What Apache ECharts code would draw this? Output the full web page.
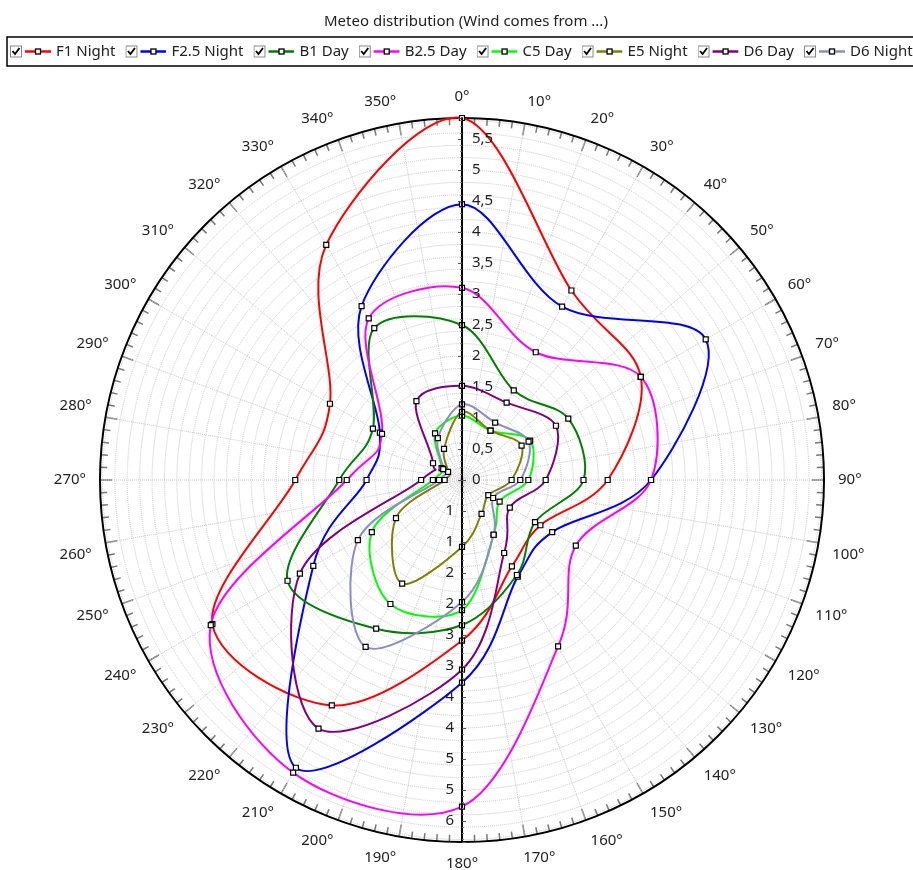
<!DOCTYPE html>
<html>
<head>
<meta charset="utf-8">
<script src="https://cdn.jsdelivr.net/npm/echarts@6/dist/echarts.min.js"></script>
<style>
html,body{margin:0;padding:0;background:#fff;}
#chart{width:913px;height:870px;}
</style>
</head>
<body>
<div id="chart"></div>
<script>
// ---- data ----
const titleText = 'Meteo distribution (Wind comes from ...)';
const angles = [0, 30, 60, 90, 120, 150, 180, 210, 240, 270, 300, 330];
const seriesNames = ['F1 Night', 'F2.5 Night', 'B1 Day', 'B2.5 Day', 'C5 Day', 'E5 Night', 'D6 Day', 'D6 Night'];
const seriesColors = ['#ff0000', '#0000ff', '#008000', '#ff00ff', '#00ff00', '#808000', '#800080', '#8c8cc8'];
const f1Night  = [5.84, 3.53, 3.33, 2.35, 1.46, 1.61, 2.59, 4.20, 4.65, 2.69, 2.46, 4.38];
const f25Night = [4.45, 3.23, 4.54, 3.05, 1.68, 1.80, 3.27, 5.36, 2.77, 1.54, 1.53, 3.24];
const b1Day    = [2.50, 1.67, 1.98, 1.96, 1.36, 1.77, 2.34, 2.77, 3.25, 1.98, 1.66, 2.83];
const b25Day   = [3.10, 2.38, 3.33, 3.05, 2.12, 3.10, 5.27, 5.45, 4.68, 1.86, 1.49, 3.01];
const c5Day    = [1.04, 0.92, 1.27, 1.07, 0.70, 1.02, 2.10, 2.31, 1.68, 0.47, 0.38, 0.87];
const e5Night  = [1.10, 0.92, 1.11, 0.80, 0.49, 0.63, 1.08, 1.93, 1.23, 0.28, 0.26, 0.58];
const d6Day    = [1.52, 1.44, 1.75, 1.35, 0.89, 1.36, 3.06, 4.63, 3.02, 0.66, 0.54, 1.47];
const d6Night  = [1.22, 1.07, 1.24, 0.94, 0.58, 1.02, 1.97, 3.11, 1.94, 0.37, 0.35, 0.78];
const seriesValues = [f1Night, f25Night, b1Day, b25Day, c5Day, e5Night, d6Day, d6Night];
const radiusMax = 5.84;

// ---- chart ----
const FONT_NAME = 'Noto Sans';
const FONT = "'Noto Sans', sans-serif";
const LABEL_SIZE = 15;
const chart = echarts.init(document.getElementById('chart'), null, {renderer: 'canvas'});

const measureCtx = document.createElement('canvas').getContext('2d');
function textWidth(s) {
  measureCtx.font = LABEL_SIZE + "px '" + FONT_NAME + "'";
  return Math.ceil(measureCtx.measureText(s).width);
}

function legendIcon(color) {
  const svg = '<svg xmlns="http://www.w3.org/2000/svg" width="41" height="14" viewBox="0 0 41 14">' +
    '<rect x="0.5" y="1.5" width="11" height="11" fill="#fff" stroke="#888" stroke-width="1"/>' +
    '<polyline points="2.5,6.5 5,9.5 9.5,3.5" fill="none" stroke="#000" stroke-width="1.8"/>' +
    '<line x1="15" y1="7" x2="41" y2="7" stroke="' + color + '" stroke-width="2.5"/>' +
    '<rect x="25.5" y="4.5" width="5" height="5" fill="#fff" stroke="#000" stroke-width="1.3"/>' +
    '</svg>';
  return 'image://data:image/svg+xml;charset=utf-8,' + encodeURIComponent(svg);
}

// closed cardinal (Catmull-Rom) curve through the points, drawn segment by segment
function makeSeries(i) {
  const vals = seriesValues[i];
  const color = seriesColors[i];
  const n = angles.length;
  return {
    name: seriesNames[i],
    type: 'custom',
    coordinateSystem: 'polar',
    polarIndex: 0,
    z: 3,
    data: angles.map((a, k) => [vals[k], a]),
    encode: {radius: 0, angle: 1},
    renderItem: function (params, api) {
      const k = params.dataIndex;
      const P = j => { const m = ((j % n) + n) % n; return api.coord([vals[m], angles[m]]); };
      const p0 = P(k - 1), p1 = P(k), p2 = P(k + 1), p3 = P(k + 2);
      const t = 1 / 6;
      return {
        type: 'group',
        children: [
          {
            type: 'bezierCurve',
            shape: {
              x1: p1[0], y1: p1[1], x2: p2[0], y2: p2[1],
              cpx1: p1[0] + (p2[0] - p0[0]) * t, cpy1: p1[1] + (p2[1] - p0[1]) * t,
              cpx2: p2[0] - (p3[0] - p1[0]) * t, cpy2: p2[1] - (p3[1] - p1[1]) * t
            },
            style: {stroke: color, lineWidth: 2, fill: 'none'},
            z2: 1
          },
          {
            type: 'rect',
            shape: {x: p1[0] - 2.5, y: p1[1] - 2.5, width: 5, height: 5},
            style: {fill: '#fff', stroke: '#000', lineWidth: 1.2},
            z2: 10
          }
        ]
      };
    }
  };
}

const hiddenAngle = (idx, start) => ({
  polarIndex: idx, type: 'value', min: 0, max: 360, startAngle: start, clockwise: true,
  axisLine: {show: false}, axisTick: {show: false}, axisLabel: {show: false},
  splitLine: {show: false}
});

const LH = 18;
function angleLabel(v) {
  if (v >= 360) return '';
  const s = v + '°';
  if (v === 10 || v === 170) return '{l|' + s + '}';
  if (v === 350 || v === 190) return '{r|' + s + '}';
  if (v === 80 || v === 280) return '{b|' + s + '}';
  if (v === 100 || v === 260) return '{t|' + s + '}';
  return s;
}
const padL = textWidth('10°');
const padR = textWidth('350°');
const isHalfStep = v => Math.abs(v * 2 - Math.round(v * 2)) < 1e-6 && v < 5.8;

const option = {
  animation: false,
  backgroundColor: '#fff',
  title: {
    text: titleText, left: 319, top: 9,
    textStyle: {fontFamily: FONT, fontSize: 15, fontWeight: 'normal', color: '#222'}
  },
  legend: {
    left: 10, top: 44, width: 2000, padding: 0,
    itemWidth: 41, itemHeight: 14, itemGap: 10,
    textStyle: {fontFamily: FONT, fontSize: 15, color: '#222'},
    data: seriesNames.map((n, i) => ({name: n, icon: legendIcon(seriesColors[i])}))
  },
  graphic: [{
    type: 'rect', shape: {x: 7, y: 37, width: 1000, height: 29},
    style: {fill: 'none', stroke: '#000', lineWidth: 1.5}, z: 0
  }],
  polar: [
    {center: [462, 480], radius: 362},
    {center: [462, 480], radius: 362},
    {center: [462, 480], radius: 362}
  ],
  angleAxis: [
    {
      polarIndex: 0, type: 'value', min: 0, max: 360, interval: 10, startAngle: 90, clockwise: true,
      axisLine: {lineStyle: {color: '#000', width: 2}},
      axisTick: {inside: true, length: 12, lineStyle: {color: '#777', width: 1.5}},
      minorTick: {show: true, splitNumber: 5, length: 7, lineStyle: {color: '#777', width: 1.5}},
      axisLabel: {
        margin: 14, fontFamily: FONT, fontSize: LABEL_SIZE, color: '#222',
        formatter: angleLabel,
        rich: {
          l: {fontFamily: FONT, fontSize: LABEL_SIZE, color: '#222', padding: [0, 0, 0, padL]},
          r: {fontFamily: FONT, fontSize: LABEL_SIZE, color: '#222', padding: [0, padR, 0, 0]},
          b: {fontFamily: FONT, fontSize: LABEL_SIZE, color: '#222', lineHeight: LH, padding: [0, 0, LH, 0]},
          t: {fontFamily: FONT, fontSize: LABEL_SIZE, color: '#222', lineHeight: LH, padding: [LH, 0, 0, 0]}
        }
      },
      splitLine: {lineStyle: {color: '#c8c8c8', type: 'dotted', width: 1}}
    },
    hiddenAngle(1, 90),
    hiddenAngle(2, 270)
  ],
  radiusAxis: [
    {
      polarIndex: 0, type: 'value', min: 0, max: radiusMax, interval: 0.2,
      axisLine: {show: false}, axisTick: {show: false}, axisLabel: {show: false},
      splitLine: {lineStyle: {color: '#c8c8c8', type: 'dotted', width: 1}}
    },
    {
      polarIndex: 1, type: 'value', min: 0, max: radiusMax, interval: 0.5, z: 5,
      axisLine: {lineStyle: {color: '#000', width: 2}},
      axisTick: {show: true, length: 4, lineStyle: {color: '#555'}},
      minorTick: {show: true, splitNumber: 5, length: 2, lineStyle: {color: '#777'}},
      axisLabel: {margin: -10, align: 'left', fontFamily: FONT, fontSize: LABEL_SIZE, color: '#222',
        formatter: v => (isHalfStep(v) ? String(v).replace('.', ',') : '')},
      splitLine: {show: false}
    },
    {
      polarIndex: 2, type: 'value', min: 0, max: radiusMax, interval: 0.5, z: 5,
      axisLine: {lineStyle: {color: '#000', width: 2}},
      axisTick: {show: true, length: 4, lineStyle: {color: '#555'}},
      minorTick: {show: true, splitNumber: 5, length: 2, lineStyle: {color: '#777'}},
      axisLabel: {margin: -8, align: 'right', fontFamily: FONT, fontSize: LABEL_SIZE, color: '#222',
        formatter: v => (v > 0 && isHalfStep(v) ? String(Math.round(v)) : '')},
      splitLine: {show: false}
    }
  ],
  series: seriesNames.map((n, i) => makeSeries(i))
};
chart.setOption(option);
</script>
</body>
</html>
